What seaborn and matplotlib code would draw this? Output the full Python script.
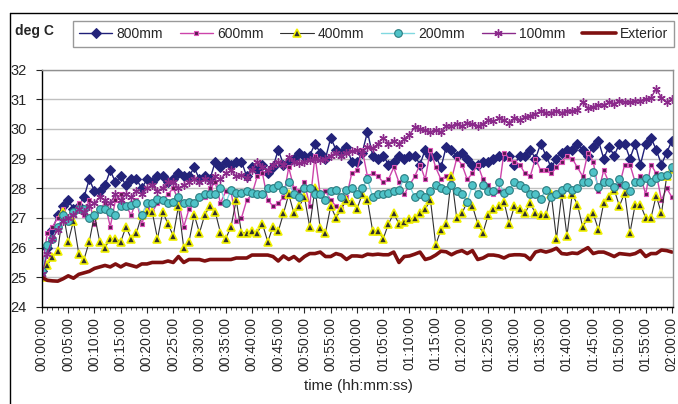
import matplotlib
matplotlib.use('Agg')
import matplotlib.pyplot as plt
from matplotlib.ticker import MultipleLocator
from matplotlib.lines import Line2D
import seaborn as sns

# time axis, one reading per minute
minutes = list(range(121))
tick_pos = [0, 5, 10, 15, 20, 25, 30, 35, 40, 45, 50, 55, 60,
            65, 70, 75, 80, 85, 90, 95, 100, 105, 110, 115, 120]
tick_labels = ["00:00:00", "00:05:00", "00:10:00", "00:15:00", "00:20:00",
               "00:25:00", "00:30:00", "00:35:00", "00:40:00", "00:45:00",
               "00:50:00", "00:55:00", "01:00:00", "01:05:00", "01:10:00",
               "01:15:00", "01:20:00", "01:25:00", "01:30:00", "01:35:00",
               "01:40:00", "01:45:00", "01:50:00", "01:55:00", "02:00:00"]

s800 = [25.2, 26.0, 26.6, 27.1, 27.4, 27.6, 27.3, 27.4, 27.7, 28.3,
        27.9, 27.9, 28.1, 28.6, 28.2, 28.4, 28.1, 28.3, 28.3, 28.0,
        28.3, 28.2, 28.4, 28.4, 28.2, 28.3, 28.5, 28.4, 28.4, 28.7,
        28.3, 28.4, 28.3, 28.9, 28.7, 28.9, 28.8, 28.9, 28.9, 28.4,
        28.7, 28.6, 28.8, 28.5, 28.7, 29.3, 28.8, 28.9, 29.0, 29.2,
        29.1, 29.1, 29.5, 29.2, 29.0, 29.7, 29.3, 29.2, 29.4, 28.9,
        28.9, 29.2, 29.9, 29.1, 29.0, 29.1, 28.8, 28.9, 29.1, 29.0,
        29.1, 29.1, 28.8, 29.3, 29.1, 29.1, 28.7, 29.4, 29.3, 29.1,
        29.2, 29.0, 28.8, 28.8, 28.9, 28.9, 29.0, 29.1, 29.1, 29.1,
        28.8, 29.1, 29.1, 29.3, 29.0, 29.5, 29.1, 28.7, 29.0, 29.2,
        29.3, 29.3, 29.5, 29.3, 29.1, 29.4, 29.6, 29.0, 29.4, 29.1,
        29.5, 29.5, 29.0, 29.5, 28.8, 29.5, 29.7, 29.3, 28.8, 29.2,
        29.6]

s600 = [25.2, 26.5, 26.7, 27.0, 27.3, 26.9, 27.2, 27.5, 27.1, 27.6,
        26.8, 27.3, 27.5, 26.7, 27.6, 27.8, 27.4, 27.1, 27.6, 26.8,
        27.3, 27.2, 27.5, 27.6, 27.8, 28.0, 27.6, 26.7, 27.3, 27.5,
        27.7, 27.7, 28.0, 28.2, 27.5, 27.9, 27.9, 26.9, 27.0, 27.6,
        27.8, 28.4, 28.5, 27.6, 27.4, 27.5, 27.7, 28.7, 28.0, 27.9,
        28.2, 27.4, 29.1, 27.8, 27.9, 27.6, 27.4, 27.3, 27.7, 28.5,
        28.6, 29.3, 28.4, 28.5, 28.4, 28.2, 28.3, 28.7, 28.2, 27.8,
        28.1, 28.4, 28.8, 28.3, 29.3, 28.7, 28.3, 28.4, 28.3, 29.0,
        28.8, 28.3, 28.5, 28.8, 28.3, 28.1, 27.8, 27.9, 29.2, 29.0,
        28.9, 28.8, 28.5, 28.4, 29.0, 28.6, 28.6, 28.5, 28.7, 28.9,
        29.1, 29.0, 28.7, 28.4, 29.2, 28.9, 27.9, 28.6, 28.2, 27.9,
        28.1, 28.8, 28.8, 28.2, 28.4, 27.8, 28.8, 28.5, 27.6, 28.0,
        27.7]

s400 = [25.0, 25.4, 25.7, 25.9, 27.2, 26.2, 26.9, 25.8, 25.6, 26.2,
        27.1, 26.2, 26.0, 26.3, 26.3, 26.2, 26.7, 26.3, 26.5, 27.1,
        27.2, 27.2, 26.3, 27.2, 26.8, 26.4, 27.4, 26.0, 26.2, 27.1,
        26.5, 27.1, 27.4, 27.2, 26.5, 26.3, 26.7, 27.6, 26.5, 26.5,
        26.55, 26.5, 26.8, 26.2, 26.7, 26.55, 27.15, 27.8, 27.15, 27.4,
        27.7, 26.7, 28.0, 26.65, 26.5, 27.4, 27.0, 27.3, 27.6, 27.55,
        27.3, 27.8, 27.6, 26.55, 26.55, 26.3, 26.8, 27.15, 26.8, 26.85,
        26.95, 27.0, 27.15, 27.3, 27.6, 26.1, 26.6, 26.8, 28.4, 27.0,
        27.15, 27.55, 27.4, 26.8, 26.5, 27.1, 27.3, 27.4, 27.55, 26.8,
        27.4, 27.3, 27.15, 27.5, 27.15, 27.1, 27.1, 27.8, 26.3, 27.8,
        26.4, 27.8, 27.45, 26.7, 27.0, 27.15, 26.6, 27.5, 27.7, 27.95,
        27.4, 27.85, 26.5, 27.45, 27.45, 27.0, 27.0, 27.75, 27.15, 28.4,
        28.65]

s200 = [25.2, 26.1, 26.3, 26.7, 27.1, 26.9, 27.2, 27.3, 27.3, 27.0,
        27.1, 27.3, 27.3, 27.2, 27.1, 27.4, 27.4, 27.45, 27.5, 27.1,
        27.5, 27.5, 27.65, 27.6, 27.5, 27.55, 27.7, 27.5, 27.55, 27.5,
        27.7, 27.8, 27.8, 27.8, 28.0, 27.5, 27.95, 27.85, 27.85, 27.9,
        27.83, 27.8, 27.8, 28.0, 28.0, 28.1, 27.95, 28.2, 27.8, 27.7,
        28.0, 28.0, 27.8, 27.8, 27.6, 27.9, 27.95, 27.7, 27.95, 28.0,
        27.8, 28.0, 28.3, 27.7, 27.8, 27.8, 27.85, 27.9, 27.95, 28.35,
        28.1, 27.7, 27.8, 27.7, 27.9, 28.1, 28.0, 27.95, 28.1, 27.9,
        27.8, 27.55, 28.1, 27.8, 28.1, 27.9, 27.9, 28.2, 27.85, 27.95,
        28.2, 28.1, 28.0, 27.8, 27.8, 27.65, 27.95, 27.7, 27.8, 27.95,
        28.05, 27.95, 28.0, 28.2, 28.2, 28.55, 28.05, 28.2, 28.2, 28.05,
        28.3, 28.1, 27.9, 28.2, 28.2, 28.35, 28.2, 28.35, 28.4, 28.45,
        28.7]

s100 = [25.1, 25.8, 26.3, 26.6, 26.9, 27.0, 27.1, 27.3, 27.2, 27.4,
        27.5, 27.7, 27.6, 27.5, 27.8, 27.6, 27.8, 27.7, 27.9, 27.8,
        28.0, 28.1, 27.9, 28.0, 28.2, 28.2, 28.0, 28.1, 28.2, 28.3,
        28.2, 28.3, 28.2, 28.4, 28.3, 28.5, 28.6, 28.4, 28.45, 28.35,
        28.6, 28.9, 28.7, 28.6, 28.8, 28.9, 28.8, 29.05, 28.9, 28.85,
        28.9, 28.95, 29.0, 28.95, 29.0, 29.1, 29.2, 29.1, 29.2, 29.25,
        29.3, 29.2, 29.4, 29.35, 29.5, 29.7, 29.5, 29.6, 29.5, 29.65,
        29.8, 30.05, 30.0, 29.95, 29.9, 29.95, 29.9, 30.1, 30.1, 30.15,
        30.1, 30.2, 30.15, 30.1, 30.15, 30.3, 30.25, 30.35, 30.3, 30.2,
        30.35, 30.3, 30.4, 30.45, 30.5, 30.6, 30.55, 30.55, 30.6, 30.55,
        30.6, 30.6, 30.65, 30.9, 30.7, 30.75, 30.8, 30.8, 30.9, 30.85,
        30.95, 30.9, 30.9, 30.95, 30.95, 31.0, 31.05, 31.35, 31.05, 30.9,
        31.0]

exterior = [25.0, 24.9, 24.88, 24.87, 24.95, 25.05, 24.97, 25.1, 25.15, 25.2,
            25.3, 25.35, 25.4, 25.35, 25.45, 25.35, 25.45, 25.4, 25.35, 25.45,
            25.45, 25.5, 25.5, 25.5, 25.55, 25.5, 25.7, 25.5, 25.6, 25.6,
            25.6, 25.55, 25.6, 25.6, 25.6, 25.6, 25.6, 25.65, 25.65, 25.65,
            25.75, 25.75, 25.75, 25.75, 25.7, 25.55, 25.72, 25.6, 25.7, 25.55,
            25.7, 25.8, 25.8, 25.85, 25.7, 25.7, 25.8, 25.75, 25.6, 25.72,
            25.72, 25.7, 25.78, 25.76, 25.78, 25.76, 25.76, 25.85, 25.5, 25.7,
            25.72, 25.78, 25.85, 25.6, 25.65, 25.75, 25.88, 25.86, 25.76, 25.85,
            25.9, 25.8, 25.9, 25.6, 25.65, 25.75, 25.75, 25.72, 25.65, 25.74,
            25.76, 25.76, 25.74, 25.6, 25.85, 25.9, 25.85, 25.9, 25.98, 25.8,
            25.78, 25.82, 25.8, 25.9, 26.0, 25.8, 25.85, 25.85, 25.78, 25.7,
            25.8, 25.78, 25.76, 25.8, 25.9, 25.7, 25.8, 25.8, 25.92, 25.9,
            25.85]

sns.set_style('white')
plt.rcParams['font.family'] = ['Liberation Sans', 'DejaVu Sans']

fig = plt.figure(figsize=(6.78, 4.04), dpi=100)
ax = fig.add_axes([42/678, 97/404, 631/678, 237.5/404])

# series, drawn in the same order as the legend
sns.lineplot(x=minutes, y=s800, ax=ax, color='#1f1f78', linewidth=1.0,
             marker='D', markersize=5, markerfacecolor='#23237a',
             markeredgecolor='#23237a', label='800mm')
sns.lineplot(x=minutes, y=s600, ax=ax, color='#cc44aa', linewidth=1.0,
             marker='s', markersize=3.2, markerfacecolor='#5a1a50',
             markeredgecolor='#dd55bb', markeredgewidth=0.8, label='600mm')
sns.lineplot(x=minutes, y=s400, ax=ax, color='#303030', linewidth=0.8,
             marker='^', markersize=6, markerfacecolor='#303030',
             markeredgecolor='#f0f000', markeredgewidth=1.2, label='400mm')
sns.lineplot(x=minutes, y=s200, ax=ax, color='#80d8e0', linewidth=1.0,
             marker='o', markersize=5.5, markerfacecolor='#4fc3c8',
             markeredgecolor='#2a7c80', markeredgewidth=0.8, label='200mm')
sns.lineplot(x=minutes, y=s100, ax=ax, color='#8b2a8b', linewidth=1.0,
             marker=(6, 2, 0), markersize=6, markeredgecolor='#8b2a8b',
             markeredgewidth=1.0, label='100mm')
sns.lineplot(x=minutes, y=exterior, ax=ax, color='#7f1010', linewidth=2.6,
             label='Exterior')

ax.set_xlim(0, 120.2)
ax.set_ylim(24, 32)
ax.set_yticks([24, 25, 26, 27, 28, 29, 30, 31, 32])
ax.set_xticks(tick_pos)
ax.set_xticklabels(tick_labels, rotation=90, fontsize=10)
ax.xaxis.set_minor_locator(MultipleLocator(1))
ax.tick_params(axis='y', labelsize=10.5, direction='out', length=4, width=0.8, left=True, pad=7)
ax.tick_params(axis='x', which='major', direction='out', length=4, width=0.8, bottom=True, pad=3)
ax.tick_params(axis='x', which='minor', direction='out', length=2.5, width=0.6, bottom=True)
ax.grid(axis='y', color='#c0c0c0', linewidth=1.0)
ax.grid(axis='x', visible=False)
ax.set_axisbelow(True)
ax.set_xlabel('')
ax.set_ylabel('')
for side in ['left', 'bottom']:
    ax.spines[side].set_color('black')
    ax.spines[side].set_linewidth(1.0)
for side in ['top', 'right']:
    ax.spines[side].set_color('#909090')
    ax.spines[side].set_linewidth(1.0)

handles, labels = ax.get_legend_handles_labels()
if ax.get_legend() is not None:
    ax.get_legend().remove()
leg = fig.legend(handles, labels, loc='center', bbox_to_anchor=(373.5/678, 1 - 34/404),
                 ncol=6, frameon=True, fancybox=False, edgecolor='#808080',
                 fontsize=10, handlelength=2.4, handletextpad=0.3,
                 columnspacing=1.2, borderpad=0.4)
leg.get_frame().set_linewidth(1.0)

fig.text(15/678, 1 - 31/404, 'deg C', fontsize=10, fontweight='bold', va='center')
fig.text(358/678, 1 - 386/404, 'time (hh:mm:ss)', fontsize=11, ha='center', va='center')

# outer chart frame
fig.add_artist(Line2D([9.5/678, 9.5/678], [0, 1 - 13/404], color='black', linewidth=1.0))
fig.add_artist(Line2D([9.5/678, 1], [1 - 13/404, 1 - 13/404], color='black', linewidth=1.0))

fig.savefig('out.png', dpi=100)
